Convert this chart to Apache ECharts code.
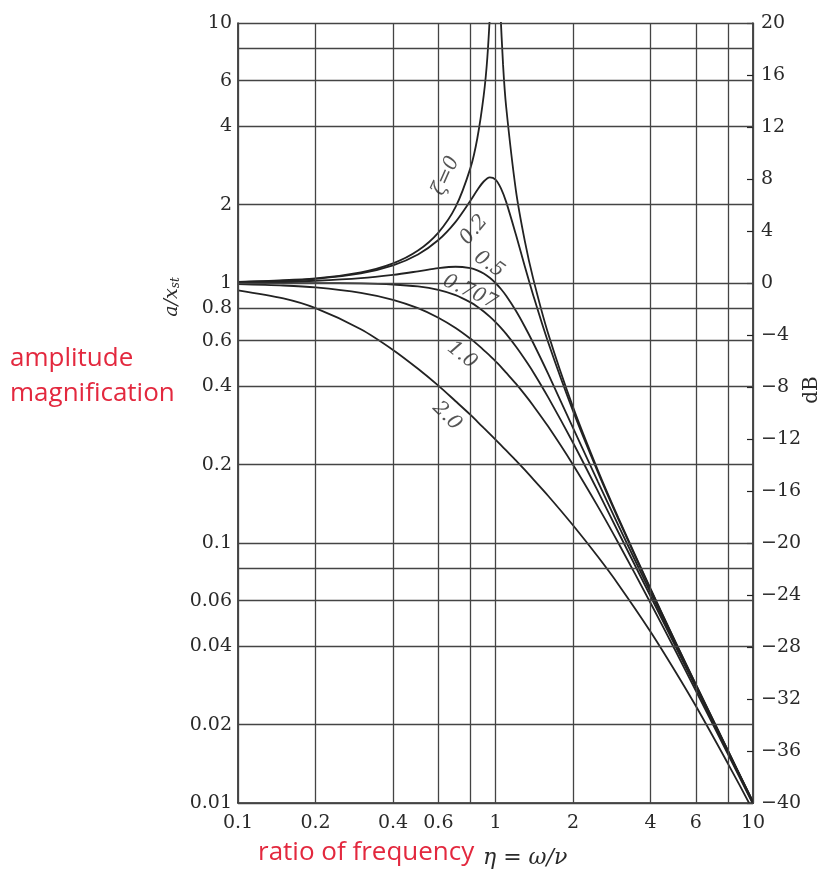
<!DOCTYPE html>
<html><head><meta charset="utf-8">
<script src="https://cdn.jsdelivr.net/npm/echarts/dist/echarts.min.js"></script>
<style>html,body{margin:0;padding:0;background:#fff}#c{width:825px;height:870px}</style>
</head><body><div id="c"></div><script>
// ---- data ----
const eta = [0.1,0.15,0.2,0.3,0.4,0.5,0.6,0.7,0.8,0.85,0.9,0.95,1.0,1.05,1.1,1.2,1.3,1.4,1.6,2,2.5,3,4,5,6,8,10];
const zeta02  = [1.009,1.021,1.038,1.090,1.170,1.288,1.463,1.719,2.076,2.279,2.457,2.549,2.500,2.313,2.051,1.536,1.157,0.900,0.593,0.322,0.187,0.1236,0.0663,0.0415,0.0285,0.01585,0.01009];
const zeta05  = [1.005,1.011,1.020,1.044,1.075,1.109,1.140,1.155,1.140,1.118,1.087,1.047,1.000,0.948,0.893,0.782,0.679,0.589,0.448,0.277,0.172,0.117,0.0644,0.0408,0.0282,0.01575,0.01005];
const zeta0707= [1.000,1.000,0.999,0.996,0.987,0.970,0.941,0.898,0.842,0.811,0.777,0.742,0.707,0.672,0.637,0.570,0.509,0.455,0.364,0.243,0.158,0.110,0.0624,0.0400,0.0278,0.01562,0.0100];
const zeta10  = [0.990,0.978,0.962,0.917,0.862,0.800,0.735,0.671,0.610,0.581,0.552,0.526,0.500,0.476,0.452,0.410,0.372,0.338,0.281,0.200,0.138,0.100,0.0588,0.0385,0.0270,0.01538,0.0099];
const zeta20  = [0.937,0.872,0.800,0.664,0.553,0.468,0.403,0.351,0.311,0.293,0.277,0.263,0.250,0.238,0.227,0.208,0.191,0.176,0.152,0.117,0.0885,0.0693,0.0456,0.0320,0.0236,0.01415,0.00937];
const eta0  = [0.1,0.2,0.3,0.4,0.5,0.6,0.7,0.8,0.85,0.9,0.93,0.96,1.0,1.04,1.07,1.1,1.2,1.3,1.4,1.6,2,2.5,3,4,5,6,8,10];
const zeta0 = [1.010,1.042,1.099,1.190,1.333,1.563,1.961,2.778,3.604,5.263,7.40,12.76,null,12.25,6.90,4.762,2.273,1.449,1.042,0.641,0.333,0.190,0.125,0.0667,0.0417,0.0286,0.0159,0.0101];

const xTickLabels = [0.1,0.2,0.4,0.6,1,2,4,6,10];
const xGridOnly = [0.8,8];
const yTickLabels = [10,6,4,2,1,0.8,0.6,0.4,0.2,0.1,0.06,0.04,0.02,0.01];
const yGridOnly = [8,0.08];

const curveNames = ['ζ=0','0.2','0.5','0.707','1.0','2.0'];
const labelEta = [0.642,0.825,0.944,0.796,0.741,0.648];
const labelAmp = [2.58,1.60,1.18,0.923,0.528,0.308];

// ---- styles ----
const INK = '#222';
const GRIDC = '#444';
const SERIF = 'DejaVu Serif';
const RED = '#e3283e';
const labelRot = [66, 50, -35, -25, -38, -45];

const chart = echarts.init(document.getElementById('c'), null, {renderer:'canvas'});

const curveSeries = (name, xs, ys) => ({
  type:'line', name, data: xs.map((x,i)=>[x, ys[i]]), showSymbol:false, symbol:'none',
  smooth:0.3, connectNulls:false, silent:true, z:3,
  lineStyle:{color:INK, width:1.8}
});

const tickFont = {fontFamily:SERIF, fontSize:19, color:'#2a2a2a'};

const option = {
  animation:false,
  backgroundColor:'#fff',
  grid:{left:238, right:72, top:23, bottom:67, containLabel:false, outerBoundsMode:'none'},
  xAxis:{type:'log', logBase:10, min:0.1, max:10,
    axisLine:{show:true, onZero:false, lineStyle:{color:INK, width:1.6}},
    axisTick:{show:false}, axisLabel:{show:false}, splitLine:{show:false}},
  yAxis:[
    {type:'log', logBase:10, min:0.01, max:10,
      axisLine:{show:true, onZero:false, lineStyle:{color:INK, width:1.6}},
      axisTick:{show:false}, axisLabel:{show:false}, splitLine:{show:false}},
    {type:'value', min:-40, max:20, interval:4, position:'right',
      axisLine:{show:true, onZero:false, lineStyle:{color:INK, width:1.6}},
      axisTick:{show:true, inside:true, length:6, lineStyle:{color:INK, width:1.2}},
      axisLabel:Object.assign({margin:8, formatter:v => v < 0 ? '\u2212' + (-v) : String(v)}, tickFont),
      splitLine:{show:false}}
  ],
  series:[
    {type:'line', data:[], silent:true, z:1,
      markLine:{silent:true, symbol:['none','none'], animation:false,
        lineStyle:{color:GRIDC, width:1.3, type:'solid'},
        label:Object.assign({show:true, position:'start', distance:11}, tickFont),
        emphasis:{disabled:true},
        data: xTickLabels.map(v=>({xAxis:v, label:{formatter:String(v)}}))
          .concat(xGridOnly.map(v=>({xAxis:v, label:{show:false}})))}},
    {type:'line', data:[], silent:true, z:1,
      markLine:{silent:true, symbol:['none','none'], animation:false,
        lineStyle:{color:GRIDC, width:1.3, type:'solid'},
        label:Object.assign({show:true, position:'start', distance:6}, tickFont),
        emphasis:{disabled:true},
        data: yTickLabels.map(v=>({yAxis:v, label:{formatter:String(v)}}))
          .concat(yGridOnly.map(v=>({yAxis:v, label:{show:false}})))}},
    curveSeries('0', eta0, zeta0),
    curveSeries('0.2', eta, zeta02),
    curveSeries('0.5', eta, zeta05),
    curveSeries('0.707', eta, zeta0707),
    curveSeries('1.0', eta, zeta10),
    curveSeries('2.0', eta, zeta20),
    {type:'scatter', symbolSize:1, silent:true, z:5,
      itemStyle:{color:'rgba(0,0,0,0)'},
      label:{show:true, position:'inside', fontFamily:SERIF, fontStyle:'italic', fontSize:20, color:'#2a2a2a'},
      data: labelEta.map((x,i)=>({value:[x, labelAmp[i]], label:{formatter:curveNames[i], rotate:labelRot[i]}}))}
  ],
  graphic:[
    {type:'text', x:10, y:359, silent:true, style:{text:'amplitude', font:'26px "Open Sans"', fill:RED, verticalAlign:'middle'}},
    {type:'text', x:10, y:394, silent:true, style:{text:'magnification', font:'26px "Open Sans"', fill:RED, verticalAlign:'middle'}},
    {type:'text', x:258, y:853, silent:true, style:{text:'ratio of frequency', font:'26px "Open Sans"', fill:RED, verticalAlign:'middle'}},
    {type:'text', x:483, y:858, silent:true, style:{text:'η = ω/ν', font:'italic 22px "DejaVu Serif"', fill:'#2a2a2a', verticalAlign:'middle'}},
    {type:'text', x:812, y:390, rotation:Math.PI/2, silent:true, style:{text:'dB', font:'20px "DejaVu Serif"', fill:'#2a2a2a', align:'center', verticalAlign:'middle'}},
    {type:'text', x:172, y:297, rotation:Math.PI/2, silent:true, style:{text:'{a|a/x}{s|st}', align:'center', verticalAlign:'middle',
      rich:{a:{font:'italic 19px "DejaVu Serif"', fill:'#2a2a2a'}, s:{font:'italic 12px "DejaVu Serif"', fill:'#2a2a2a', verticalAlign:'bottom'}}}}
  ]
};
chart.setOption(option);
</script></body></html>
